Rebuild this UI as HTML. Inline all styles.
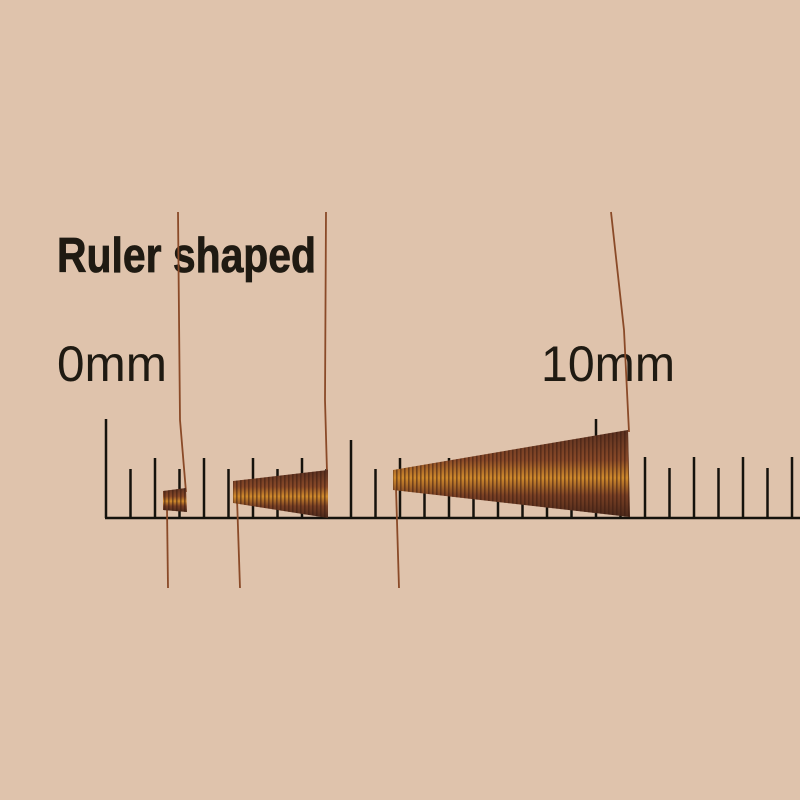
<!DOCTYPE html>
<html><head><style>html,body{margin:0;padding:0;background:#dfc3ac;}svg{display:block}</style></head>
<body>
<svg width="800" height="800" viewBox="0 0 800 800" xmlns="http://www.w3.org/2000/svg">
<defs>
<linearGradient id="cg" x1="0" y1="0" x2="0" y2="1">
<stop offset="0" stop-color="#5a3020"/>
<stop offset="0.35" stop-color="#8a4a28"/>
<stop offset="0.55" stop-color="#d08a2c"/>
<stop offset="0.75" stop-color="#7a4024"/>
<stop offset="1" stop-color="#4a281a"/>
</linearGradient>
<pattern id="st" width="4" height="10" patternUnits="userSpaceOnUse">
<rect x="0" y="0" width="1.6" height="10" fill="#3a1c10" opacity="0.55"/>
</pattern>
</defs>
<rect width="800" height="800" fill="#dfc3ac"/>
<g font-family="Liberation Sans, sans-serif" fill="#1f1a12">
<text x="57" y="272" font-size="49" font-weight="bold" textLength="259" lengthAdjust="spacingAndGlyphs" stroke="#1f1a12" stroke-width="0.8">Ruler shaped</text>
<text x="57" y="381" font-size="50" textLength="110" lengthAdjust="spacingAndGlyphs">0mm</text>
<text x="541" y="381" font-size="50" textLength="134" lengthAdjust="spacingAndGlyphs">10mm</text>
</g>
<g stroke="#15120c" stroke-width="2.5">
<line x1="105" y1="518" x2="800" y2="518"/>
<line x1="106" y1="419" x2="106" y2="518"/>
<line x1="596" y1="419" x2="596" y2="518"/>
<line x1="351" y1="440" x2="351" y2="518"/>
<line x1="130.5" y1="469" x2="130.5" y2="518"/>
<line x1="155" y1="458" x2="155" y2="518"/>
<line x1="179.5" y1="469" x2="179.5" y2="518"/>
<line x1="204" y1="458" x2="204" y2="518"/>
<line x1="228.5" y1="469" x2="228.5" y2="518"/>
<line x1="253" y1="458" x2="253" y2="518"/>
<line x1="277.5" y1="469" x2="277.5" y2="518"/>
<line x1="302" y1="458" x2="302" y2="518"/>
<line x1="326.5" y1="469" x2="326.5" y2="518"/>
<line x1="375.5" y1="469" x2="375.5" y2="518"/>
<line x1="400" y1="458" x2="400" y2="518"/>
<line x1="424.5" y1="469" x2="424.5" y2="518"/>
<line x1="449" y1="458" x2="449" y2="518"/>
<line x1="473.5" y1="469" x2="473.5" y2="518"/>
<line x1="498" y1="458" x2="498" y2="518"/>
<line x1="522.5" y1="469" x2="522.5" y2="518"/>
<line x1="547" y1="458" x2="547" y2="518"/>
<line x1="571.5" y1="469" x2="571.5" y2="518"/>
<line x1="620.5" y1="469" x2="620.5" y2="518"/>
<line x1="645" y1="457" x2="645" y2="518"/>
<line x1="669.5" y1="468" x2="669.5" y2="518"/>
<line x1="694" y1="457" x2="694" y2="518"/>
<line x1="718.5" y1="468" x2="718.5" y2="518"/>
<line x1="743" y1="457" x2="743" y2="518"/>
<line x1="767.5" y1="468" x2="767.5" y2="518"/>
<line x1="792" y1="457" x2="792" y2="518"/>
</g>
<g stroke="#8a4a28" stroke-width="1.8" fill="none">
<path d="M178 212 L180 420 L186 492"/>
<path d="M167 508 L168 588"/>
<path d="M326 212 L325 400 L327 472"/>
<path d="M237 498 L240 588"/>
<path d="M611 212 L624 330 L629 432"/>
<path d="M396 488 L399 588"/>
</g>
<polygon points="163,491 186,488 187,512 163,510" fill="url(#cg)"/>
<polygon points="163,491 186,488 187,512 163,510" fill="url(#st)"/>
<polygon points="233,481 328,470 328,518 233,503" fill="url(#cg)"/>
<polygon points="233,481 328,470 328,518 233,503" fill="url(#st)"/>
<polygon points="393,470 628,430 630,517 393,490" fill="url(#cg)"/>
<polygon points="393,470 628,430 630,517 393,490" fill="url(#st)"/>
</svg>
</body></html>
